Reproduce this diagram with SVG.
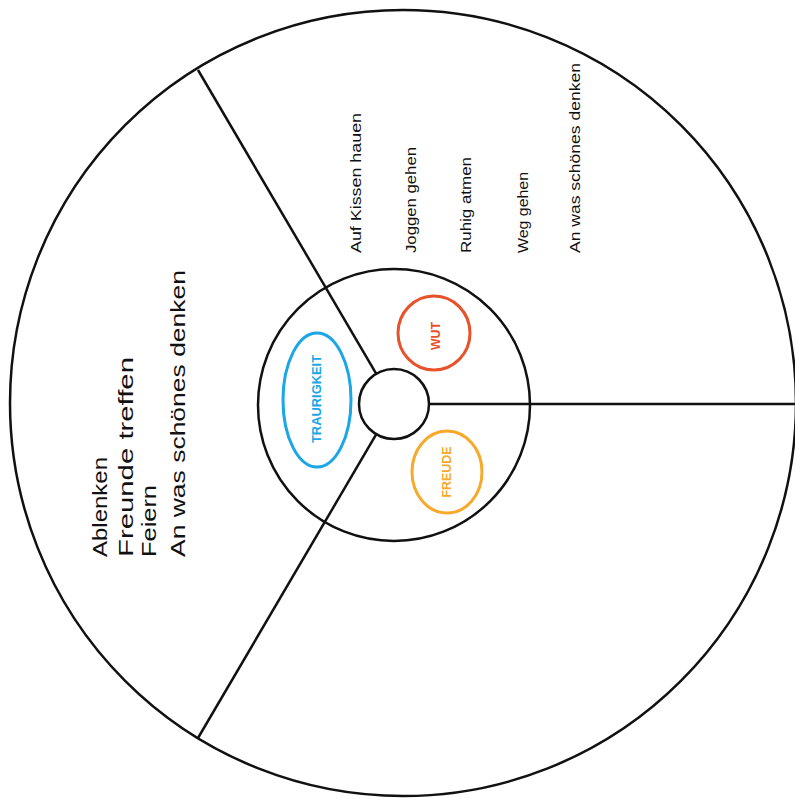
<svg xmlns="http://www.w3.org/2000/svg" width="795" height="798" viewBox="0 0 795 798">
<style>
.ring{fill:none;stroke:#111;stroke-width:2.5}
.line{stroke:#111;stroke-width:2.5;fill:none}
.hand{font-family:"Liberation Sans","DejaVu Sans",sans-serif;fill:#111}
.big{font-size:20px}
.small{font-size:14px}
.lab{font-family:"Liberation Sans","DejaVu Sans",sans-serif;font-weight:bold;font-size:12px;text-anchor:middle;dominant-baseline:central}
</style>
<rect width="795" height="798" fill="#fff"/>
<g id="outer-circle"><circle class="ring" cx="403" cy="403" r="393"/></g>
<g id="inner-circle"><circle class="ring" cx="394" cy="405" r="136"/></g>
<g id="center-circle"><circle class="ring" cx="394" cy="404" r="35"/></g>
<g id="connectors">
<line class="line" x1="376.3" y1="373.8" x2="198" y2="70"/>
<line class="line" x1="376.3" y1="434.2" x2="198" y2="738"/>
<line class="line" x1="429" y1="404" x2="797" y2="404"/>
</g>
<g id="traurigkeit">
<ellipse cx="317" cy="400" rx="34" ry="67" fill="none" stroke="#1ba6e6" stroke-width="3"/>
<text class="lab" fill="#1ba6e6" transform="translate(317,399) rotate(-90)" textLength="88" lengthAdjust="spacingAndGlyphs">TRAURIGKEIT</text>
</g>
<g id="wut">
<ellipse cx="434" cy="333" rx="36" ry="37" fill="none" stroke="#e8522a" stroke-width="3"/>
<text class="lab" fill="#e8522a" transform="translate(436,336) rotate(-90)" textLength="28" lengthAdjust="spacingAndGlyphs">WUT</text>
</g>
<g id="freude">
<ellipse cx="447" cy="472" rx="35" ry="41" fill="none" stroke="#f6a92a" stroke-width="3"/>
<text class="lab" fill="#f6a92a" transform="translate(447,472) rotate(-90)" textLength="51" lengthAdjust="spacingAndGlyphs">FREUDE</text>
</g>
<g id="left-texts" class="hand big">
<text transform="translate(107,557) rotate(-90)" textLength="100" lengthAdjust="spacingAndGlyphs">Ablenken</text>
<text transform="translate(133,557) rotate(-90)" textLength="200" lengthAdjust="spacingAndGlyphs">Freunde treffen</text>
<text transform="translate(156,557) rotate(-90)" textLength="72" lengthAdjust="spacingAndGlyphs">Feiern</text>
<text transform="translate(185,557) rotate(-90)" textLength="287" lengthAdjust="spacingAndGlyphs">An was schönes denken</text>
</g>
<g id="right-texts" class="hand small">
<text transform="translate(361,253) rotate(-90)" textLength="140" lengthAdjust="spacingAndGlyphs">Auf Kissen hauen</text>
<text transform="translate(416,253) rotate(-90)" textLength="106" lengthAdjust="spacingAndGlyphs">Joggen gehen</text>
<text transform="translate(471,253) rotate(-90)" textLength="96" lengthAdjust="spacingAndGlyphs">Ruhig atmen</text>
<text transform="translate(528,253) rotate(-90)" textLength="81" lengthAdjust="spacingAndGlyphs">Weg gehen</text>
<text transform="translate(580,253) rotate(-90)" textLength="190" lengthAdjust="spacingAndGlyphs">An was schönes denken</text>
</g>
</svg>
